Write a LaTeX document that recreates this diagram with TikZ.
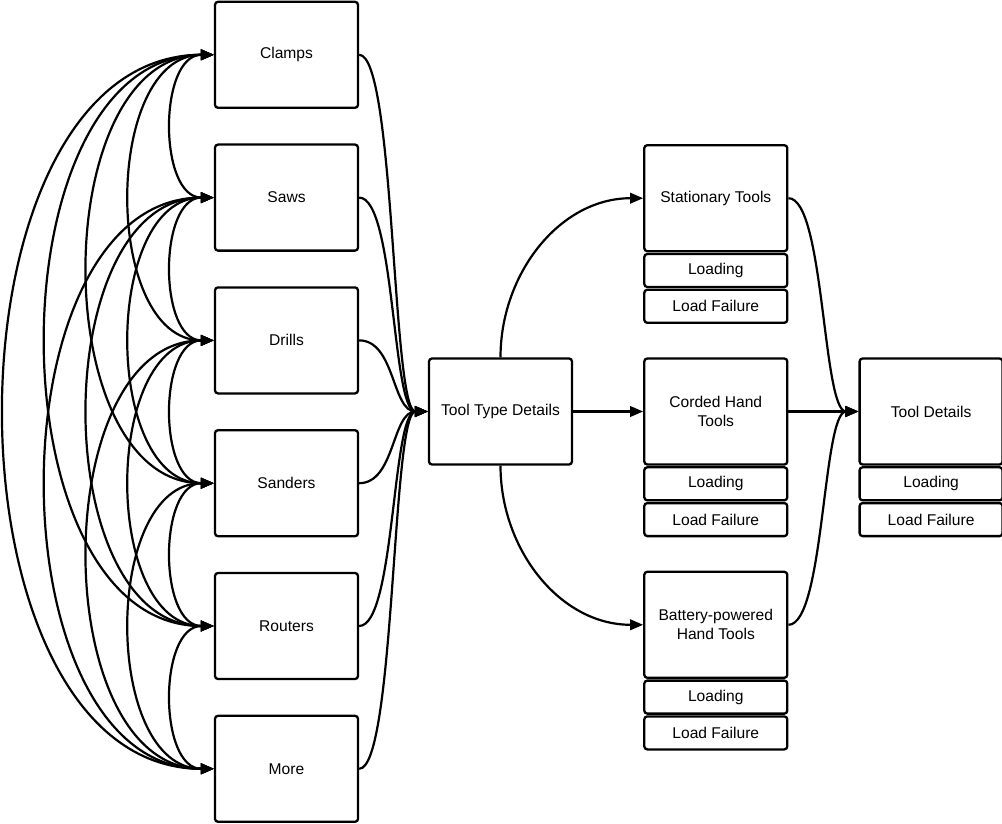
\documentclass[tikz,border=0pt]{standalone}
\usepackage{fontspec}
\setmainfont{Liberation Sans}
\usetikzlibrary{positioning, arrows.meta}

\begin{document}
\begin{tikzpicture}[
        x=1pt, y=1pt,
        node distance=34.5pt,
        box/.style={draw, rounded corners=3pt, line width=2.3pt, minimum width=143pt,
            minimum height=106pt, align=center, font=\fontsize{15.6}{19}\selectfont},
        sub/.style={box, minimum height=33pt},
        >={Triangle[length=13pt, width=10.5pt]},
        line width=2.2pt
    ]
    \useasboundingbox (0,0) rectangle (1002,-824);

    %% ---- Tool types (left column) ----
    \node[box] (clamps) at (286.5,-54.8) {Clamps};
    \node[box, below=of clamps]  (saws)    {Saws};
    \node[box, below=of saws]    (drills)  {Drills};
    \node[box, below=of drills]  (sanders) {Sanders};
    \node[box, below=of sanders] (routers) {Routers};
    \node[box, below=of routers] (more)    {More};

    %% ---- Tool type details ----
    \node[box] (ttd) at (500.5,-411.5) {Tool Type Details};

    %% ---- Categories, each with its states ----
    \node[box, right=70pt of ttd]     (corded) {Corded Hand\\Tools};
    \node[box, above=105pt of corded] (stat)   {Stationary Tools};
    \node[box, below=105pt of corded] (batt)   {Battery-powered\\Hand Tools};

    \node[sub, below=0.5pt of stat]       (statload) {Loading};
    \node[sub, below=0.5pt of statload]   (statfail) {Load Failure};
    \node[sub, below=0.5pt of corded]     (cordload) {Loading};
    \node[sub, below=0.5pt of cordload]   (cordfail) {Load Failure};
    \node[sub, below=0.5pt of batt]       (battload) {Loading};
    \node[sub, below=0.5pt of battload]   (battfail) {Load Failure};

    %% ---- Tool details ----
    \node[box, right=70pt of corded] (td) {Tool Details};
    \node[sub, below=0.5pt of td]      (tdload) {Loading};
    \node[sub, below=0.5pt of tdload]  (tdfail) {Load Failure};

    %% ---- Links between tool types ----
    \foreach \a/\b in {clamps/saws, clamps/drills, clamps/sanders, clamps/routers, clamps/more,
                       saws/drills, saws/sanders, saws/routers, saws/more,
                       drills/sanders, drills/routers, drills/more,
                       sanders/routers, sanders/more,
                       routers/more}
        \draw[<->] (\a.west) to[out=180, in=180] (\b.west);

    %% ---- Tool types to tool type details ----
    \foreach \t in {clamps, saws, drills, sanders, routers, more}
        \draw[->] (\t.east) .. controls +(36,0) and +(-36,0) .. (ttd.west);

    %% ---- Tool type details to categories ----
    \draw[->] (ttd.north) to[out=90, in=180] (stat.west);
    \draw[->] (ttd.east) -- (corded.west);
    \draw[->] (ttd.south) to[out=-90, in=180] (batt.west);

    %% ---- Categories to tool details ----
    \draw[->] (stat.east) .. controls +(36,0) and +(-36,0) .. (td.west);
    \draw[->] (corded.east) -- (td.west);
    \draw[->] (batt.east) .. controls +(36,0) and +(-36,0) .. (td.west);

\end{tikzpicture}
\end{document}
